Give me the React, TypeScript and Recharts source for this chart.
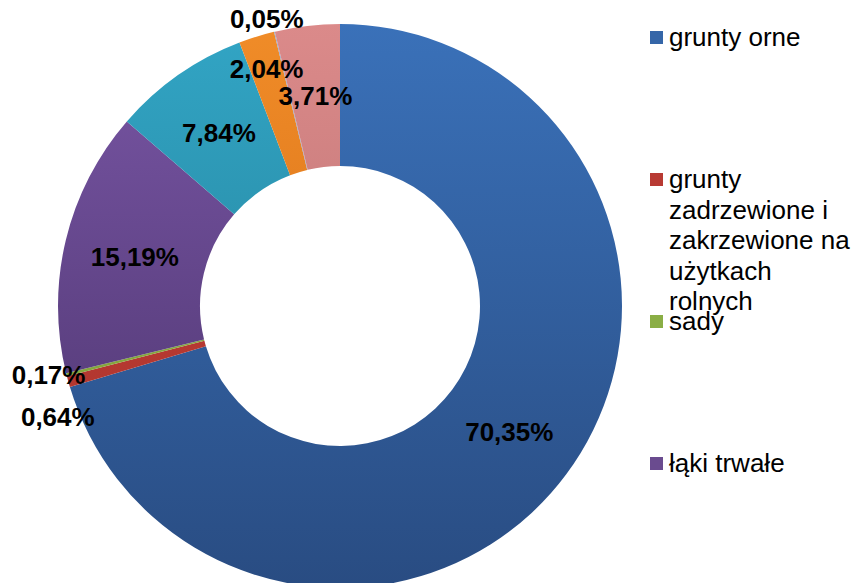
import { PieChart, Pie, Cell, Legend } from 'recharts'

const categories = [
  'grunty orne',
  'grunty zadrzewione i zakrzewione na użytkach rolnych',
  'sady',
  'łąki trwałe',
  'pastwiska trwałe',
  'grunty rolne zabudowane',
  'grunty pod stawami',
  'grunty pod rowami',
]
const shares = [70.35, 0.64, 0.17, 15.19, 7.84, 2.04, 0.05, 3.71]
const shareLabels = ['70,35%', '0,64%', '0,17%', '15,19%', '7,84%', '2,04%', '0,05%', '3,71%']

// gradient top / bottom colours, per slice
const topColors = ['#3a71b9', '#c7443a', '#93b84a', '#7956a5', '#32a5c5', '#f08c28', '#94a8cc', '#db8a8a']
const bottomColors = ['#294c82', '#a8302a', '#7c9c36', '#49326a', '#21788e', '#cf6612', '#7d90b4', '#b06a6a']
const legendColors = ['#3566a8', '#b83a33', '#8aae45', '#6a4b8f']

// label placement: 0.5 = middle of the ring, >1 = outside
const labelRing = [0.5, 1.15, 1.13, 0.5, 0.5, 0.76, 1.11, 0.5]
const labelNudge = [[0, 0], [10, 30], [0, -4], [0, 0], [0, 0], [0, 0], [-4, 2], [0, 0]]

const data = categories.map((name, i) => ({ name, value: shares[i], label: shareLabels[i] }))

const RAD = Math.PI / 180

function SliceLabel(props: any) {
  const { cx, cy, midAngle, innerRadius, outerRadius, index } = props
  const r = innerRadius + (outerRadius - innerRadius) * labelRing[index]
  const x = cx + r * Math.cos(-midAngle * RAD) + labelNudge[index][0]
  const y = cy + r * Math.sin(-midAngle * RAD) + labelNudge[index][1]
  return (
    <text
      x={x}
      y={y}
      textAnchor="middle"
      dominantBaseline="central"
      fill="#000"
      fontSize={26}
      fontWeight="bold"
      fontFamily="'Liberation Sans', Arial, sans-serif"
    >
      {shareLabels[index]}
    </text>
  )
}

function LegendBox() {
  return (
    <div style={{ fontFamily: "'Liberation Sans', Arial, sans-serif", fontSize: 26, color: '#000' }}>
      {categories.slice(0, 4).map((name, i) => (
        <div key={name} style={{ height: 142, display: 'flex', alignItems: 'flex-start' }}>
          <span
            style={{
              width: 13,
              height: 13,
              marginTop: 9,
              marginRight: 6,
              background: legendColors[i],
              flex: 'none',
            }}
          />
          <span style={{ width: 187, lineHeight: '30.5px', whiteSpace: 'normal' }}>{name}</span>
        </div>
      ))}
    </div>
  )
}

export default function App() {
  return (
    <div style={{ position: 'absolute', left: 0, top: 0, background: '#fff' }}>
      <PieChart width={857} height={583} margin={{ top: 0, right: 0, bottom: 0, left: 0 }}>
        <defs>
          {topColors.map((c, i) => (
            <linearGradient key={i} id={`slice${i}`} gradientUnits="userSpaceOnUse" x1="0" y1="24" x2="0" y2="588">
              <stop offset="0%" stopColor={c} />
              <stop offset="100%" stopColor={bottomColors[i]} />
            </linearGradient>
          ))}
        </defs>
        <Pie
          data={data}
          dataKey="value"
          nameKey="name"
          cx={340}
          cy={306}
          innerRadius={140}
          outerRadius={282}
          startAngle={90}
          endAngle={-270}
          stroke="none"
          label={SliceLabel}
          labelLine={false}
          isAnimationActive={false}
        >
          {data.map((d, i) => (
            <Cell key={d.name} fill={`url(#slice${i})`} />
          ))}
        </Pie>
        <Legend
          content={LegendBox}
          layout="vertical"
          verticalAlign="top"
          align="right"
          wrapperStyle={{ left: 650, top: 22, width: 207 }}
        />
      </PieChart>
    </div>
  )
}
